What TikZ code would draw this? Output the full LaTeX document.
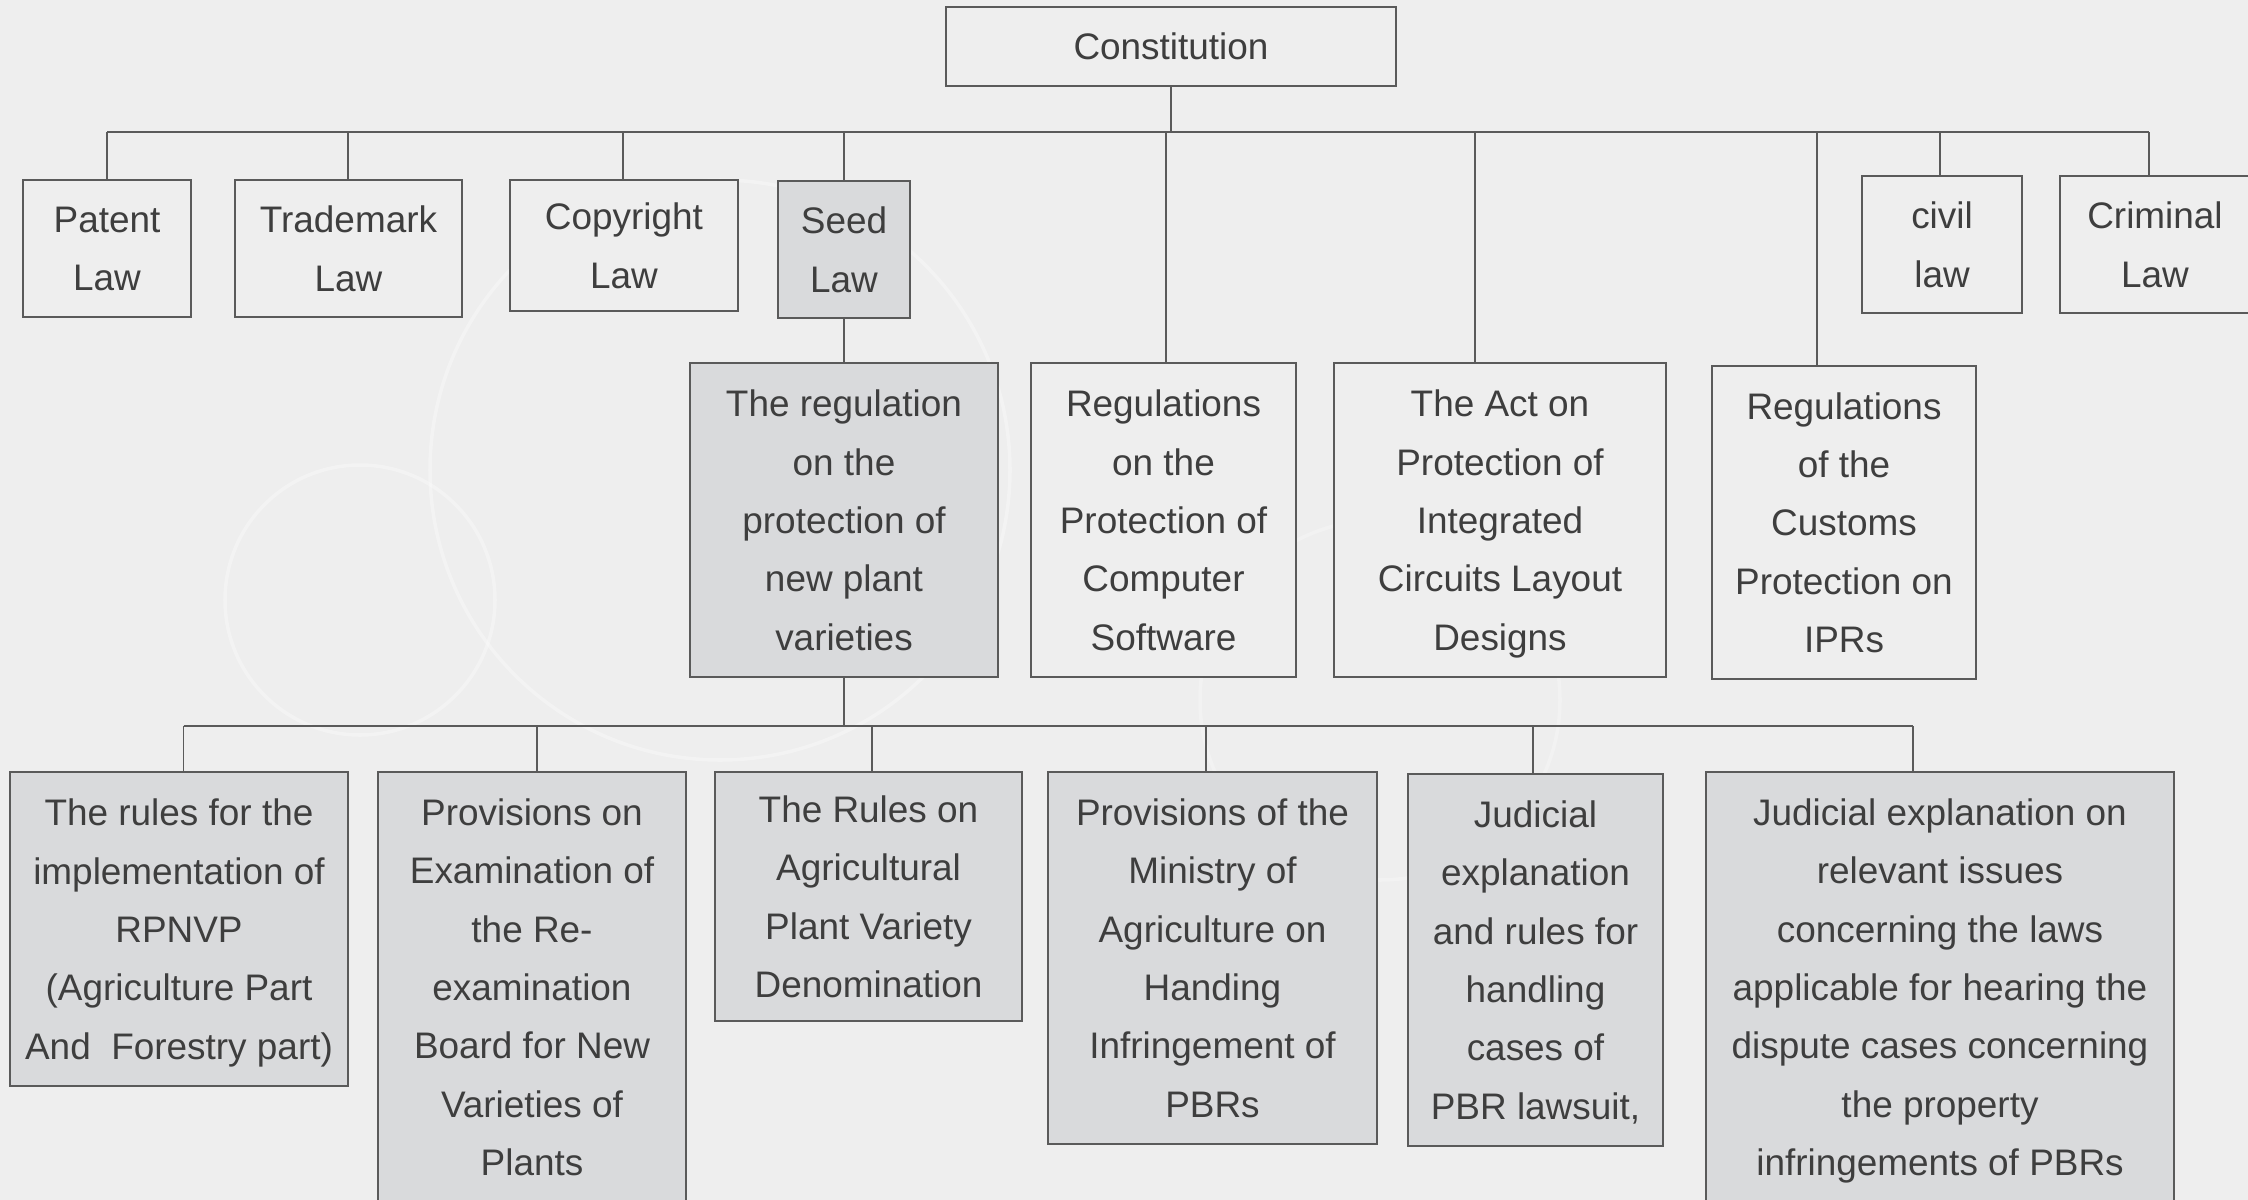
\documentclass[tikz,border=0pt]{standalone}
\usepackage{fontspec}
\setmainfont{Liberation Sans}
\definecolor{fond}{HTML}{EEEEEE}
\definecolor{gris}{HTML}{D9DADC}
\definecolor{trait}{HTML}{5A5A5A}
\definecolor{texte}{HTML}{3E3E3E}
\begin{document}
\begin{tikzpicture}[x=0.01cm, y=-0.01cm]
\tikzset{loi/.style={draw=trait, line width=0.5pt, fill=fond, rectangle, inner sep=0pt, align=center, text=texte, font=\fontsize{10.5}{16.6}\selectfont, text depth=-1pt},
  loigrise/.style={loi, fill=gris},
  lien/.style={draw=trait, line width=0.5pt}}
\fill[fond] (0,0) rectangle (2248,1200);
\useasboundingbox (0,0) rectangle (2248,1200);
% faint swirls in the background
\draw[white, opacity=0.3, line width=1pt] (720,470) circle (290);
\draw[white, opacity=0.3, line width=1pt] (360,600) circle (135);
\draw[white, opacity=0.25, line width=1pt] (1380,700) circle (180);
% top level
\node[loi, minimum width=4.5cm, minimum height=0.79cm] (const) at (1171,46.5) {Constitution};
\node[loi, minimum width=1.68cm, minimum height=1.37cm] (patent) at (107,248.5) {Patent\\Law};
\node[loi, minimum width=2.27cm, minimum height=1.37cm] (trademark) at (348.5,248.5) {Trademark\\Law};
\node[loi, minimum width=2.28cm, minimum height=1.31cm] (copyright) at (624,245.5) {Copyright\\Law};
\node[loigrise, minimum width=1.32cm, minimum height=1.37cm] (seed) at (844,249.5) {Seed\\Law};
\node[loi, minimum width=1.60cm, minimum height=1.37cm] (civil) at (1942,244.5) {civil\\law};
\node[loi, minimum width=1.90cm, minimum height=1.37cm] (criminal) at (2155,244.5) {Criminal\\Law};
% regulations
\node[loigrise, minimum width=3.08cm, minimum height=3.14cm] (plant) at (844,520) {The regulation\\on the\\protection of\\new plant\\varieties};
\node[loi, minimum width=2.65cm, minimum height=3.14cm] (software) at (1163.5,520) {Regulations\\on the\\Protection of\\Computer\\Software};
\node[loi, minimum width=3.32cm, minimum height=3.14cm] (circuits) at (1500,520) {The Act on\\Protection of\\Integrated\\Circuits Layout\\Designs};
\node[loi, minimum width=2.64cm, minimum height=3.13cm] (customs) at (1844,522.5) {Regulations\\of the\\Customs\\Protection on\\IPRs};
% rules under the plant regulation
\node[loigrise, minimum width=3.38cm, minimum height=3.14cm] (rpnvp) at (179,929) {The rules for the\\implementation of\\RPNVP\\(Agriculture Part\\And\ \ Forestry part)};
\node[loigrise, minimum width=3.08cm, minimum height=4.30cm] (reexam) at (532,987) {Provisions on\\Examination of\\the Re-\\examination\\Board for New\\Varieties of\\Plants};
\node[loigrise, minimum width=3.07cm, minimum height=2.49cm, text depth=-3.3pt] (denom) at (868.5,896.5) {The Rules on\\Agricultural\\Plant Variety\\Denomination};
\node[loigrise, minimum width=3.29cm, minimum height=3.72cm] (ministry) at (1212.5,958) {Provisions of the\\Ministry of\\Agriculture on\\Handing\\Infringement of\\PBRs};
\node[loigrise, minimum width=2.55cm, minimum height=3.72cm] (lawsuit) at (1535.5,960) {Judicial\\explanation\\and rules for\\handling\\cases of\\PBR lawsuit,};
\node[loigrise, minimum width=4.68cm, minimum height=4.30cm] (dispute) at (1940,987) {Judicial explanation on\\relevant issues\\concerning the laws\\applicable for hearing the\\dispute cases concerning\\the property\\infringements of PBRs};
% buses
\coordinate (haut) at (1171,132);
\coordinate (bas) at (844,726);
\coordinate (t1) at (107,132);
\coordinate (t2) at (348,132);
\coordinate (t3) at (623,132);
\coordinate (t4) at (844,132);
\coordinate (t5) at (1166,132);
\coordinate (t6) at (1475,132);
\coordinate (t7) at (1817,132);
\coordinate (t8) at (1940,132);
\coordinate (t9) at (2149,132);
\coordinate (b1) at (183.5,726);
\coordinate (b2) at (537,726);
\coordinate (b3) at (872,726);
\coordinate (b4) at (1206,726);
\coordinate (b5) at (1533,726);
\coordinate (b6) at (1913,726);
\draw[lien] (t1) -- (t9);
\draw[lien] (const.south) -- (haut);
\draw[lien] (t1) -- (t1 |- patent.north);
\draw[lien] (t2) -- (t2 |- trademark.north);
\draw[lien] (t3) -- (t3 |- copyright.north);
\draw[lien] (t4) -- (seed.north);
\draw[lien] (t5) -- (t5 |- software.north);
\draw[lien] (t6) -- (t6 |- circuits.north);
\draw[lien] (t7) -- (t7 |- customs.north);
\draw[lien] (t8) -- (t8 |- civil.north);
\draw[lien] (t9) -- (t9 |- criminal.north);
\draw[lien] (seed.south) -- (plant.north);
\draw[lien] (b1) -- (b6);
\draw[lien] (plant.south) -- (bas);
\draw[lien] (b1) -- (b1 |- rpnvp.north);
\draw[lien] (b2) -- (b2 |- reexam.north);
\draw[lien] (b3) -- (b3 |- denom.north);
\draw[lien] (b4) -- (b4 |- ministry.north);
\draw[lien] (b5) -- (b5 |- lawsuit.north);
\draw[lien] (b6) -- (b6 |- dispute.north);
\end{tikzpicture}
\end{document}
